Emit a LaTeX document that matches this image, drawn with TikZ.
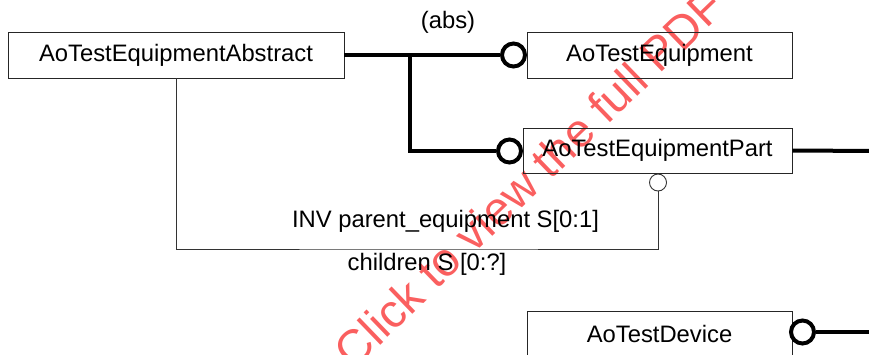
\documentclass[tikz,border=0pt]{standalone}
\usepackage{fontspec}
\setmainfont{Liberation Sans}
\usepackage{tikz}
\usetikzlibrary{calc, arrows.meta}
\definecolor{wmred}{RGB}{250,95,95}

\begin{document}
\begin{tikzpicture}[x=1pt, y=-1pt, every node/.style={font=\fontsize{23.8}{28}\selectfont},
		entity/.style={draw=black!85, line width=0.9pt, inner sep=0pt, minimum height=46pt},
		rel/.style={line width=4pt},
		link/.style={draw=black!80, line width=0.9pt},
		ring/.style={circle, draw, fill=white, line width=4pt, inner sep=0pt, minimum size=23pt},
		optring/.style={circle, draw=black!80, fill=white, line width=0.9pt, inner sep=0pt, minimum size=17pt},
		watermark/.style={text=wmred, rotate=44, font=\fontsize{47}{52}\selectfont}]
			\useasboundingbox (0,0) rectangle (869,354);
			\node[watermark] (wm) at (529,178) {Click to view the full PDF};
			\node[entity, minimum width=336pt] (abs) at (176,55) {AoTestEquipmentAbstract};
			\node[entity, minimum width=265pt] (eq) at (659.5,55) {AoTestEquipment};
			\node[entity, minimum width=269pt, minimum height=45pt] (part) at (657.5,150.5) {AoTestEquipmentPart};
			\node[entity, minimum width=265pt, minimum height=45pt] (dev) at (659.5,333.5) {AoTestDevice};
			\node[ring] (rEq) at (513.5,55) {};
			\node[ring] (rPart) at (509.5,151) {};
			\node[ring] (rDev) at (802.5,332) {};
			\node[optring] (rPar) at (658,182.5) {};
			\coordinate (j) at (410,55);
			\coordinate (lo) at (420,249);
			\coordinate (ePart) at (875,151);
			\coordinate (eDev) at (875,332);
			\draw[rel] (abs.east) -- (rEq.west);
			\draw[rel] (j) |- (rPart.west);
			\draw[rel] (part.east) -- (ePart);
			\draw[rel] (rDev.east) -- (eDev);
			\draw[link] (abs.south) |- (lo) -| (rPar.south);
			\node (absl) at (448,22) {(abs)};
			\node (inv) at (445.5,221) {INV parent\_equipment S[0:1]};
			\node (chl) at (427,264) {children S [0:?]};
		\end{tikzpicture}
\end{document}
